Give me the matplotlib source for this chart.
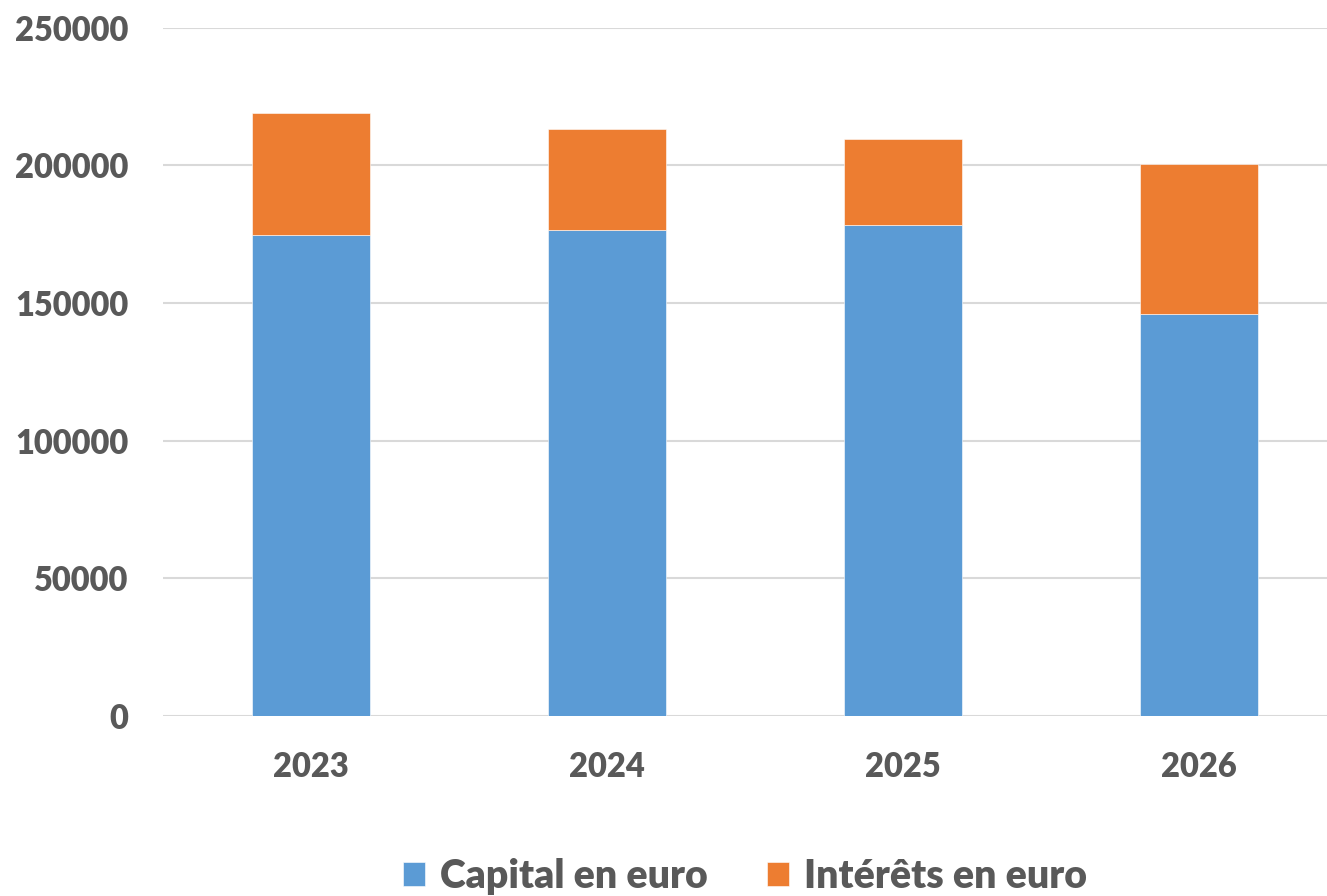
import matplotlib.pyplot as plt
import numpy as np

plt.rcParams['font.family'] = ['Lato', 'DejaVu Sans']

years = ['2023', '2024', '2025', '2026']
capital = [174700, 176500, 178300, 146000]
interets = [44300, 36500, 31100, 54600]

blue = '#5B9BD5'
orange = '#ED7D31'
grey = '#595959'

fig = plt.figure(figsize=(13.27, 8.96), dpi=100)
ax = fig.add_axes([163 / 1327, 180 / 896, 1 - 163 / 1327, (716 - 27.6) / 896])

x = np.arange(len(years))
ax.bar(x, capital, width=0.4, color=blue, edgecolor='white', linewidth=0.4,
       label='Capital en euro', zorder=3)
ax.bar(x, interets, width=0.4, bottom=capital, color=orange, edgecolor='white',
       linewidth=0.4, label='Intérêts en euro', zorder=3)

ax.set_xlim(-0.5, 3.432)
ax.set_ylim(0, 250000)
ax.set_yticks(range(0, 250001, 50000))
ax.set_xticks(x)
ax.set_xticklabels(years)
ax.yaxis.grid(True, color='#D9D9D9', linewidth=1.5, zorder=0)
ax.set_axisbelow(True)
for s in ax.spines.values():
    s.set_visible(False)
ax.tick_params(axis='both', length=0, labelsize=23.5, labelcolor=grey)
ax.tick_params(axis='y', pad=25)
ax.tick_params(axis='x', pad=25)
for lbl in ax.get_xticklabels() + ax.get_yticklabels():
    lbl.set_fontweight('heavy')

leg = fig.legend(loc='center', bbox_to_anchor=(0.5614, 0.0223), ncol=2, frameon=False,
                 prop={'size': 28.3, 'weight': 'heavy'}, handlelength=0.56,
                 handleheight=0.56, handletextpad=0.36, columnspacing=1.53)
for t in leg.get_texts():
    t.set_color(grey)

fig.savefig('out.png', dpi=100)
